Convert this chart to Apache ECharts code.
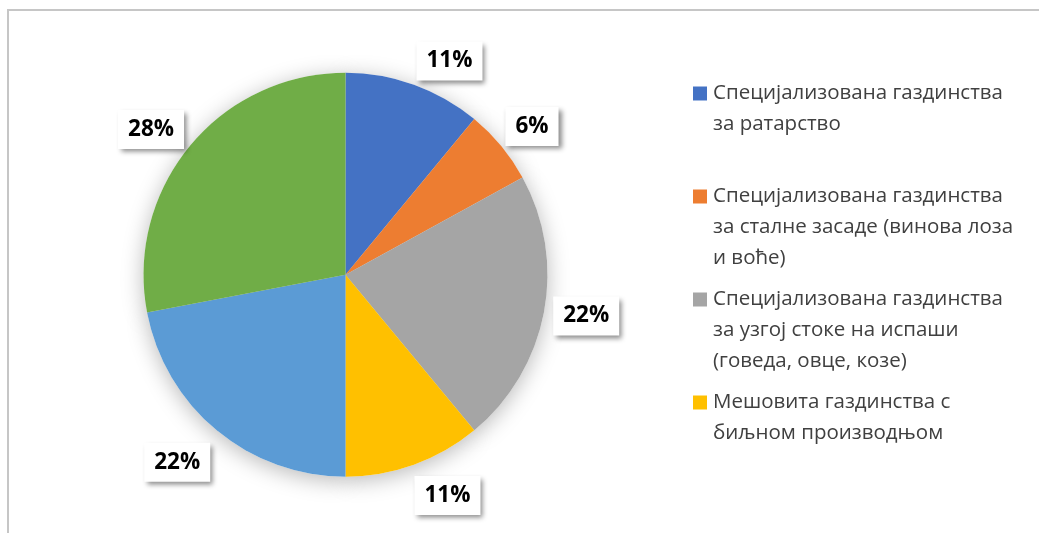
<!DOCTYPE html>
<html lang="sr">
<head>
    <meta charset="UTF-8">
    <title>Газдинства по типу производње</title>
    <style>
        html, body { margin: 0; padding: 0; background: #fff; }
        #main { width: 1039px; height: 533px; }
    </style>
</head>
<script type="text/javascript" src="https://cdn.jsdelivr.net/npm/echarts@6/dist/echarts.min.js"></script>
<body>
<div id="main"></div>
<script type="text/javascript">
    // categories, legend line breaks as in the picture
    var categories = [
        'Специјализована газдинства\nза ратарство',
        'Специјализована газдинства\nза сталне засаде (винова лоза\nи воће)',
        'Специјализована газдинства\nза узгој стоке на испаши\n(говеда, овце, козе)',
        'Мешовита газдинства с\nбиљном производњом',
        'Мешовита газдинства са\nсточарском производњом',
        'Мешовита газдинства с биљном\nи сточарском производњом'
    ];
    var shares = [11, 6, 22, 11, 22, 28];
    var legendShown = categories.slice(0, 4);

    var colors = ['#4472C4', '#ED7D31', '#A5A5A5', '#FFC000', '#5B9BD5', '#70AD47'];

    var center = [345.5, 274.7];

    var pieData = categories.map(function (c, i) {
        return {name: c, value: shares[i]};
    });

    // legend square drawn as rich text so it sits on the first line
    var rich = {
        g: {width: 6},
        p: {width: 20},
        t: {fontFamily: 'Open Sans', fontSize: 20.5, lineHeight: 31, color: '#404040'}
    };
    colors.forEach(function (c, i) {
        rich['s' + i] = {width: 14, height: 14, backgroundColor: c};
    });

    function legendText(name) {
        var i = categories.indexOf(name);
        var lines = name.split('\n');
        var s = '{s' + i + '|}{g|}{t|' + lines[0] + '}';
        for (var k = 1; k < lines.length; k++) {
            s += '\n{p|}{t|' + lines[k] + '}';
        }
        for (k = lines.length; k < 3; k++) {
            s += '\n{t| }';
        }
        return s;
    }

    // Excel pushes the small-slice labels a little off the mid angle
    function nudge(params) {
        var off = {0: [22, 14], 1: [0, 6], 2: [3, -4], 3: [20, -7], 4: [-14, 1], 5: [-8, 9]}[params.dataIndex];
        return off ? {dx: off[0], dy: off[1]} : {};
    }

    var myChart = echarts.init(document.getElementById('main'), null, {renderer: 'canvas'});
    myChart.setOption({
        animation: false,
        backgroundColor: '#fff',
        color: colors,
        graphic: [{
            type: 'rect',
            silent: true,
            shape: {x: 8, y: 10, width: 1200, height: 700},
            style: {fill: 'none', stroke: '#c6c6c6', lineWidth: 2}
        }],
        legend: {
            orient: 'vertical',
            left: 687,
            top: 83,
            padding: 0,
            itemGap: 20,
            itemWidth: 1,
            itemHeight: 1,
            itemStyle: {opacity: 0},
            selectedMode: false,
            data: legendShown,
            formatter: legendText,
            textStyle: {rich: rich}
        },
        series: [
            {
                // soft shadow under the pie
                type: 'pie',
                silent: true,
                center: center,
                radius: 202,
                startAngle: 90,
                data: pieData,
                label: {show: false},
                labelLine: {show: false},
                itemStyle: {
                    color: '#fff',
                    shadowBlur: 22,
                    shadowColor: 'rgba(0,0,0,0.28)',
                    shadowOffsetY: 4
                }
            },
            {
                type: 'pie',
                silent: true,
                center: center,
                radius: 202,
                startAngle: 90,
                data: pieData,
                label: {show: false},
                labelLine: {show: false},
                itemStyle: {borderWidth: 0}
            },
            {
                // invisible ring carrying the data labels
                type: 'pie',
                silent: true,
                center: center,
                radius: 478,
                startAngle: 90,
                avoidLabelOverlap: false,
                data: pieData,
                itemStyle: {color: 'rgba(0,0,0,0)'},
                labelLine: {show: false},
                labelLayout: nudge,
                label: {
                    show: true,
                    position: 'inside',
                    formatter: '{d}%',
                    fontFamily: 'Open Sans',
                    fontWeight: 'bold',
                    fontSize: 22.5,
                    lineHeight: 24,
                    color: '#000',
                    backgroundColor: '#fff',
                    padding: [8, 10, 7, 10],
                    shadowBlur: 5,
                    shadowOffsetX: 3,
                    shadowOffsetY: 3,
                    shadowColor: 'rgba(0,0,0,0.45)'
                }
            }
        ]
    });
</script>
</body>
</html>
